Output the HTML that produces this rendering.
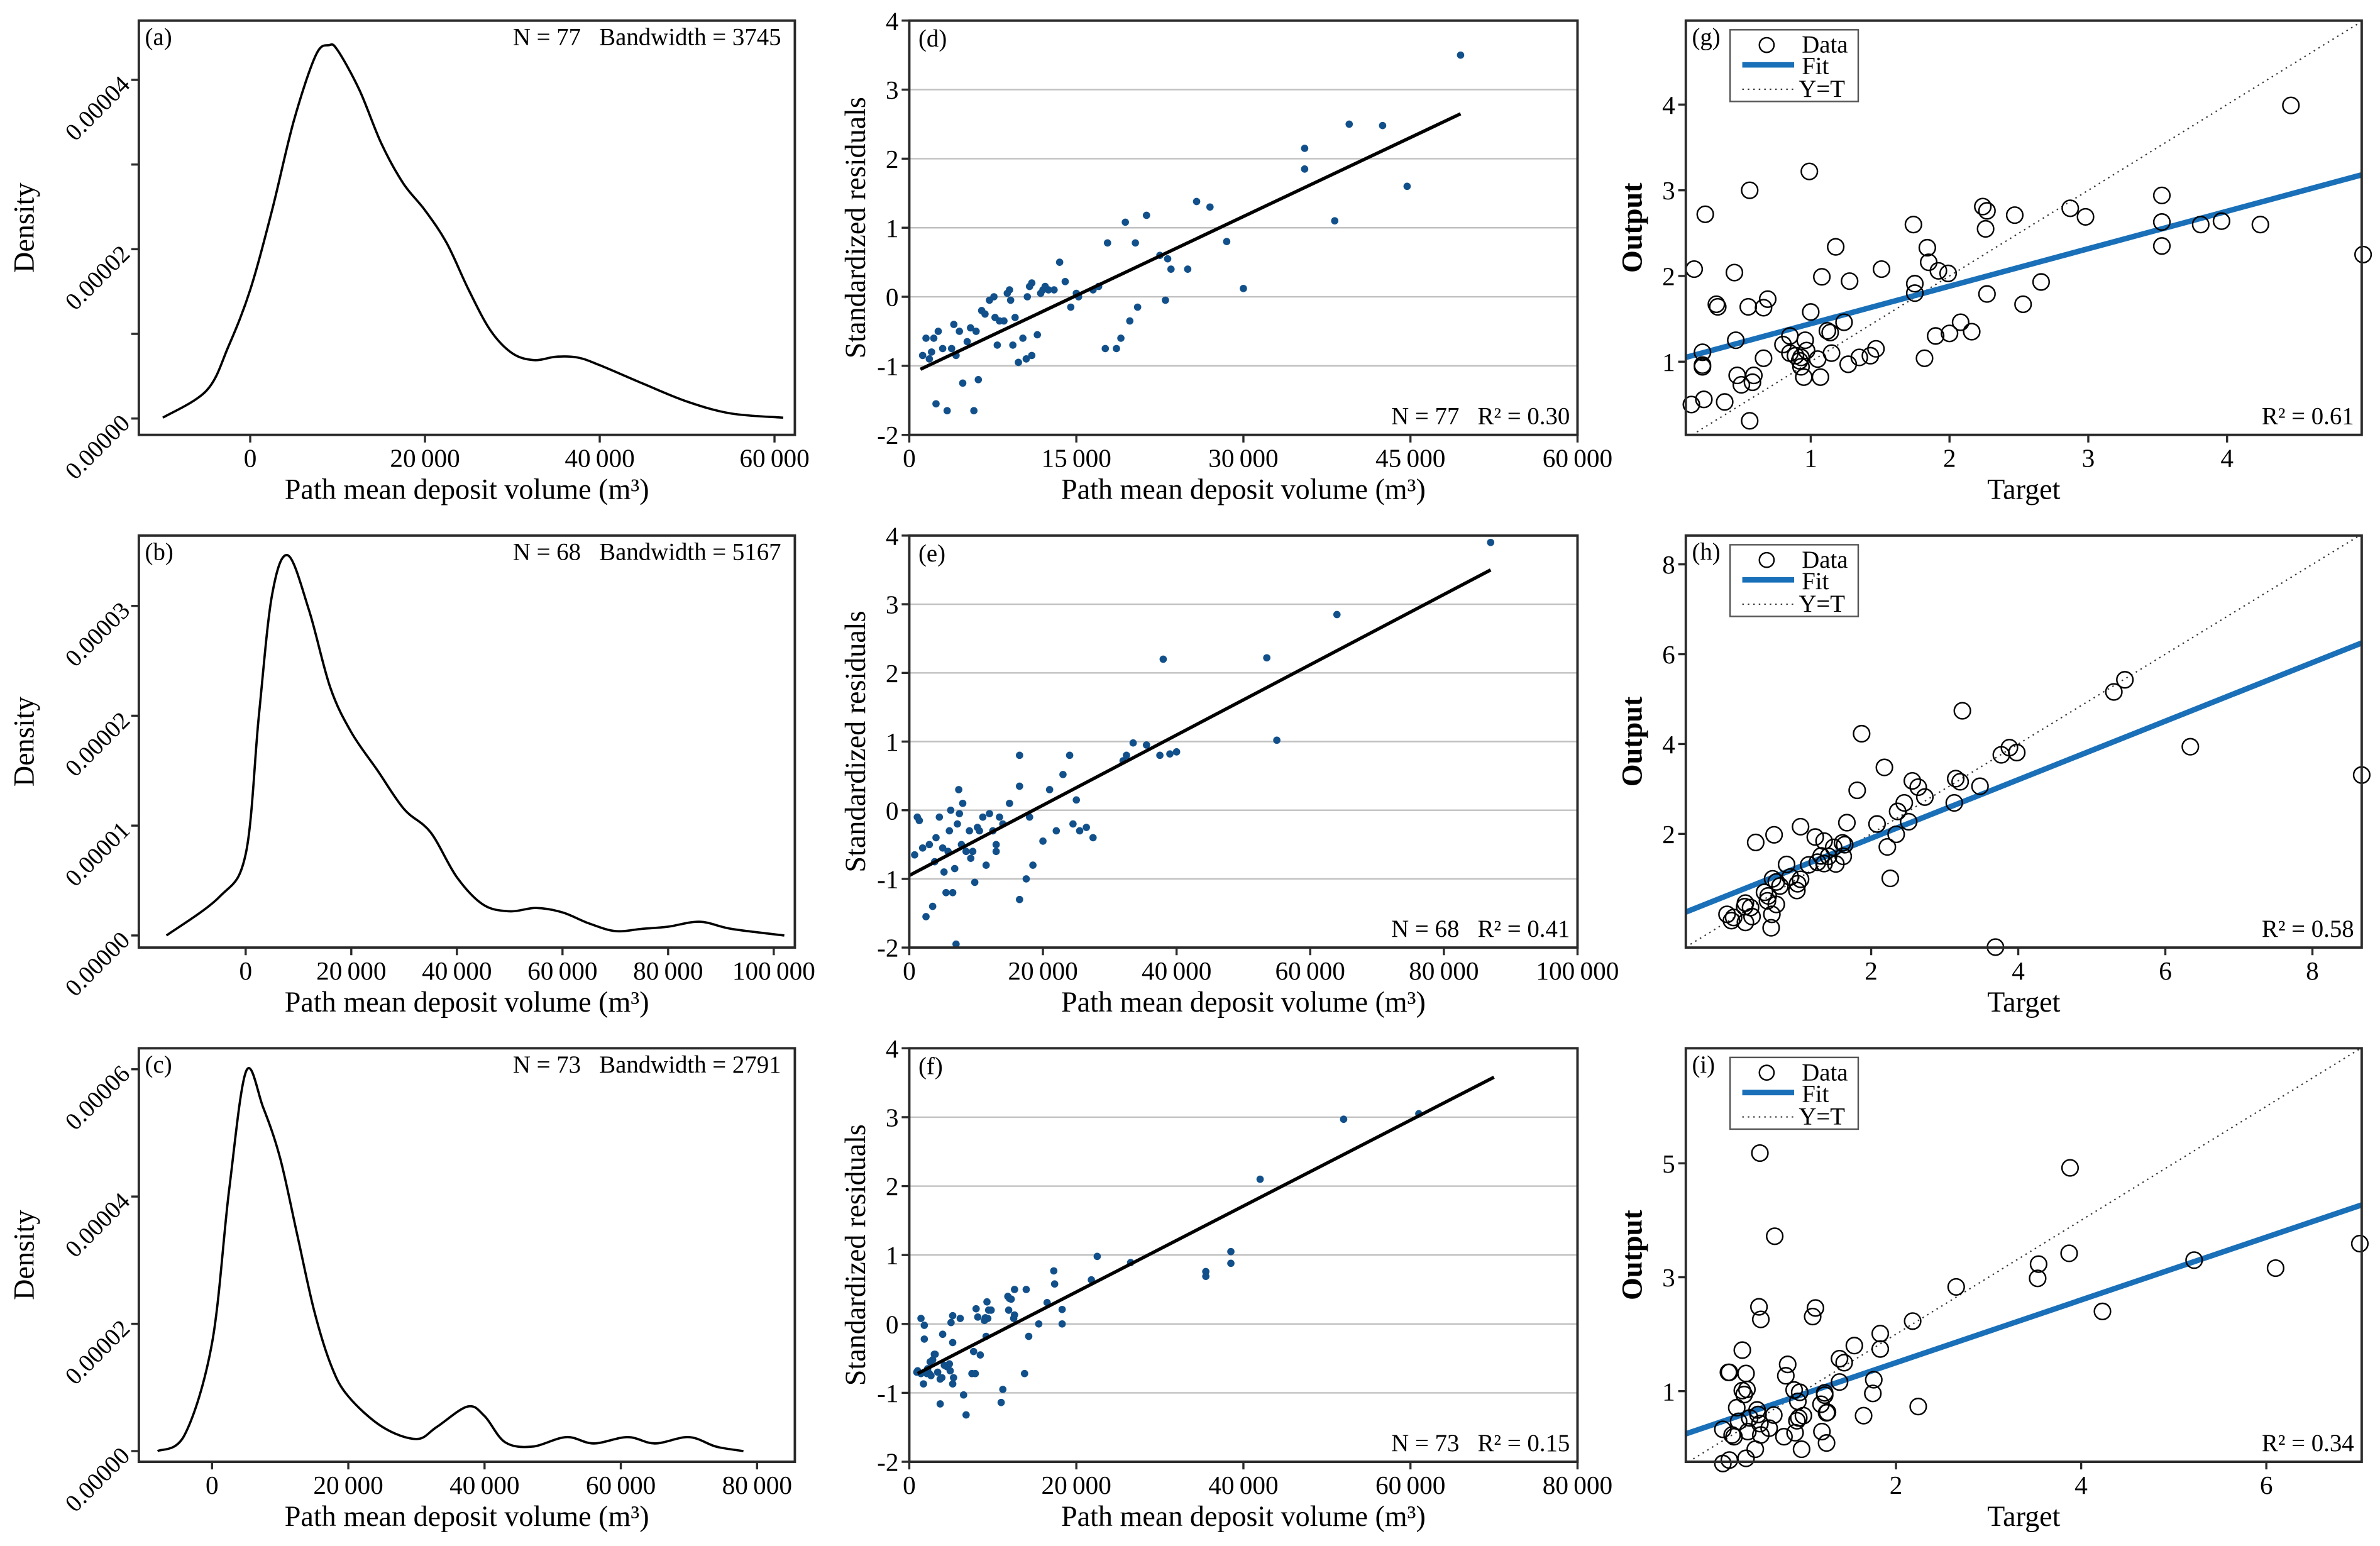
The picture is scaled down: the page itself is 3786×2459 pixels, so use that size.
<!DOCTYPE html>
<html><head><meta charset="utf-8"><title>Residual and regression panels</title>
<style>
html,body{margin:0;padding:0;background:#fff;}
svg{display:block;font-family:"Liberation Serif","DejaVu Serif",serif;}
</style></head>
<body>
<svg id="chart" xmlns="http://www.w3.org/2000/svg" width="3786" height="2459" viewBox="0 0 1560 1013.2" preserveAspectRatio="none"></svg>
<script>
// ---------- density data (a)(b)(c) ----------
const aX=[-10000,-5000,-2500,0,2500,5000,7500,9000,10000,12500,15000,17500,20000,22500,25000,27500,30000,32500,35000,37500,40000,45000,50000,55000,61000];
const aY=[0.1,3.3,8.5,15.2,24.6,35.2,42.9,44.1,43.5,38.8,32.5,27.8,24.6,20.7,15.2,10.4,7.7,6.9,7.3,7.2,6.3,4.1,2.0,0.6,0.1];
const bX=[-15000,-5000,0,2500,5000,8000,12000,16000,20000,25000,30000,35000,40000,45000,50000,55000,60000,65000,70000,75000,80000,86000,92000,102000];
const bY=[0,3.5,7.4,20,31,34.6,29.6,22.6,18.5,15,11.5,9.4,5.3,2.8,2.2,2.5,2.1,1.1,0.4,0.6,0.8,1.25,0.6,0];
const cX=[-8000,-4000,0,2500,5000,7500,10000,12500,15000,17500,20000,25000,30000,33000,37500,40000,43000,47000,52000,56000,61000,65000,70000,74000,78000];
const cY=[0,2.6,17,41,59.7,54,46,34,22,13.4,8.6,3.8,1.9,3.8,7,5.5,1.4,0.7,2.2,1.2,2.2,1.2,2.2,0.7,0];
const densTickVals=[0,10,20,30,40,50,60];
// ---------- residual data (d)(e)(f) ----------
const dX=[49500,39500,42500,35500,35500,44700,38200,30000,28500,27000,25800,25000,23200,23000,22500,21300,20300,19400,19800,20500,19000,18600,17800,17600,17000,15000,14500,14000,13500,12500,12200,11800,11000,11500,11000,10200,10500,9800,9300,9500,9000,8800,8500,8100,7700,7600,7200,6800,6500,6200,6000,5800,5500,5200,4800,4500,4000,3800,3400,3000,2600,2400,2200,2000,1800,1500,1200,7900,9100,12000,15200,16500,13000,10800,10600,23500,4200];
const dY=[3.5,2.5,2.48,2.15,1.85,1.6,1.1,0.12,0.8,1.3,1.38,0.4,0.55,-0.05,0.6,1.18,0.78,1.08,-0.35,-0.15,-0.6,-0.75,0.78,-0.75,0.15,0.05,-0.15,0.22,0.5,0.1,0.15,0.05,0.2,-0.55,-0.85,-0.6,-0.9,-0.95,-0.7,-0.3,0.1,0.05,-0.35,-0.35,-0.3,0,-0.05,-0.25,-0.2,-1.2,-0.5,-1.65,-0.45,-0.65,-1.25,-0.5,-0.4,-0.75,-1.65,-0.75,-0.5,-1.55,-0.6,-0.8,-0.9,-0.6,-0.85,-0.7,-0.05,0.1,0,0.1,0.1,0.15,0,0.4,-0.85];
const dFitX=[1000,49500], dFitY=[-1.05,2.65];
const eX=[87000,64000,53500,55000,38000,40000,39000,37500,35500,33500,32500,32000,27500,26500,25500,25000,24000,23000,22000,20000,18500,18000,17500,16500,16500,16500,15000,14000,13500,13000,12500,12000,11500,11000,10500,10200,9800,9500,9000,8500,8000,7800,7500,7400,7200,7000,6800,6500,6200,6000,5800,5500,5000,4500,4000,3800,3500,3000,2500,2000,1500,1200,800,9200,21000,24500,5200,13000];
const eY=[3.9,2.85,2.22,1.02,2.2,0.85,0.82,0.8,0.95,0.98,0.8,0.72,-0.4,-0.25,-0.3,0.15,0.8,0.52,-0.3,-0.45,-0.8,-0.1,-1.0,0.35,0.8,-1.3,0.1,-0.2,-0.1,-0.5,-0.3,-0.05,-0.8,-0.1,-0.3,-0.25,-1.05,-0.6,-0.3,-0.6,0.1,-0.5,-0.05,0.3,-0.2,-1.95,-0.85,-1.2,0,-0.3,-0.6,-1.2,-0.55,-0.1,-0.4,-0.75,-1.4,-0.5,-1.55,-0.55,-0.15,-0.1,-0.65,-0.7,0.3,-0.2,-0.9,-0.6];
const eFitX=[0,87000], eFitY=[-0.95,3.5];
const fX=[61000,52000,42000,38500,38500,35500,35500,26500,22500,21800,18300,17300,17400,16500,15500,18300,13800,14300,12600,12500,12000,11900,11200,11000,9500,9300,9800,9400,8500,8000,7700,7500,8200,9200,6500,6800,5200,5000,4800,5200,5200,4000,4200,3700,3000,3700,2800,2600,2500,2200,1700,1800,1400,1800,1000,900,1400,2400,3400,4900,5300,6100,9100,9000,11800,12200,12600,14000,7900,2100,3100,3900,4500];
const fY=[3.05,2.97,2.1,1.05,0.88,0.76,0.69,0.89,0.98,0.64,0.21,0.77,0.58,0.31,0,0,-0.72,-0.18,0.5,0.08,0.37,0.2,-0.95,-1.14,0.2,0.32,0.2,0.08,-0.45,0.22,-0.4,-0.72,0.1,-0.18,-1.03,-1.32,0.12,0.02,-0.58,-0.27,-0.87,-0.15,-0.6,-0.8,-0.44,-1.16,-0.52,-0.75,-0.55,-0.65,-0.87,-0.02,0.08,-0.22,-0.68,-0.7,-0.72,-0.72,-0.7,-0.68,-0.78,0.08,0.09,0.05,0.4,0.36,0.13,0.5,-0.72,-0.72,-0.44,-0.78,-0.62];
const fFitX=[1000,70000], fFitY=[-0.72,3.58];
// ---------- regression data (g)(h)(i) ----------
const gX=[4.46,4.98,3.53,3.53,3.53,3.81,3.96,4.24,2.87,2.98,2.24,2.27,2.26,2.47,2.66,2.27,2.53,1.99,1.92,1.85,1.84,1.74,1.75,1.75,2.08,2.0,1.9,2.16,1.82,1.51,1.18,1.08,1.28,0.99,1.0,1.24,1.12,1.14,1.15,1.47,1.43,1.35,1.27,1.05,1.07,0.95,0.96,0.97,0.93,0.92,0.93,0.89,0.85,0.85,0.8,0.66,0.56,0.69,0.66,0.55,0.45,0.33,0.32,0.24,0.16,0.22,0.22,0.22,0.46,0.47,0.5,0.59,0.58,0.23,0.38,0.14,0.56];
const gY=[3.99,2.25,2.94,2.63,2.35,2.6,2.64,2.6,2.79,2.69,2.81,2.76,2.55,2.71,1.93,1.79,1.67,2.03,2.06,2.16,2.33,2.6,1.91,1.8,1.46,1.33,1.3,1.35,1.04,2.08,2.34,1.99,1.94,3.22,1.58,1.46,1.36,1.34,1.1,1.15,1.07,1.05,0.97,1.03,0.82,0.82,1.25,1.13,1.05,1.01,0.94,1.07,1.3,1.1,1.2,1.04,3.0,1.73,1.63,1.64,2.04,1.64,1.67,2.72,2.08,1.11,0.96,0.94,1.25,0.84,0.73,0.84,0.76,0.56,0.53,0.5,0.31];
const gFitX=[0.1,4.97], gFitY=[1.05,3.18];
const hX=[8.67,6.34,5.45,5.3,3.24,1.87,3.88,3.77,3.98,2.18,3.15,3.21,3.48,2.56,2.64,1.81,2.73,2.45,3.13,2.36,2.51,2.08,1.67,2.34,2.22,2.26,1.04,0.68,0.43,1.24,1.36,1.61,1.64,1.49,1.62,1.42,1.32,1.36,1.27,1.52,1.15,0.85,1.04,0.9,1.0,0.99,0.66,0.71,0.76,0.55,0.6,0.59,0.71,0.65,0.64,0.29,0.28,0.36,0.38,0.29,0.04,0.13,0.1,3.69];
const hY=[3.31,3.94,5.43,5.16,4.74,4.23,3.92,3.76,3.81,3.48,3.23,3.16,3.06,3.18,3.04,2.97,2.82,2.69,2.69,2.5,2.27,2.22,2.25,1.99,1.71,1.01,2.16,1.98,1.81,1.93,1.84,1.8,1.76,1.7,1.5,1.5,1.51,1.34,1.37,1.33,1.31,1.32,0.99,1.04,0.89,0.74,1.0,0.93,0.84,0.7,0.62,0.51,0.43,0.21,-0.09,0.46,0.38,0.36,0.16,0.03,0.21,0.14,0.07,-0.52];
const hFitX=[-0.52,8.67], hFitY=[0.26,6.25];
const iX=[0.53,3.88,0.69,3.87,3.54,3.53,5.22,6.1,7.01,2.65,4.23,0.52,0.54,1.13,1.1,2.18,1.83,1.83,1.55,1.39,1.44,0.34,0.19,0.2,0.38,0.83,0.81,1.76,1.39,1.75,2.24,0.34,0.39,0.36,0.9,0.96,0.94,1.23,1.23,1.19,1.26,1.25,1.65,0.28,0.5,0.51,0.68,1.0,0.95,0.93,0.3,0.42,0.53,0.63,0.13,0.23,0.25,0.4,0.54,0.79,0.91,1.2,1.25,0.98,0.48,0.38,0.2,0.13];
const iY=[5.18,4.92,3.72,3.42,3.23,2.98,3.3,3.16,3.59,2.83,2.4,2.48,2.26,2.46,2.31,2.23,2.01,1.74,1.8,1.57,1.5,1.72,1.33,1.33,1.31,1.47,1.27,1.2,1.16,0.96,0.73,1.01,1.03,0.94,1.02,0.98,0.82,0.97,0.93,0.77,0.63,0.62,0.57,0.71,0.67,0.59,0.58,0.57,0.53,0.48,0.47,0.53,0.43,0.35,0.33,0.23,0.2,0.29,0.23,0.2,0.27,0.29,0.09,-0.02,-0.02,-0.18,-0.21,-0.27];
const iFitX=[-0.27,7.03], iFitY=[0.25,4.27];

// ---------- rendering ----------
const NS='http://www.w3.org/2000/svg';
const svg=document.getElementById('chart');
const SP='\u00a0\u00a0\u00a0';
function mk(tag,attrs,parent){const e=document.createElementNS(NS,tag);for(const k in attrs)e.setAttribute(k,attrs[k]);(parent||svg).appendChild(e);return e;}
function txt(parent,x,y,s,size,anchor,extra){const t=mk('text',Object.assign({x:x,y:y,'font-size':size,'text-anchor':anchor||'start',fill:'#000'},extra||{}),parent);t.textContent=s;return t;}
function fmt(v){if(v===0)return '0';const s=String(Math.round(v));if(Math.abs(v)>=10000){return s.slice(0,s.length-3)+'\u2009'+s.slice(-3);}return s;}
function scale(d0,d1,r0,r1){return v=>r0+(v-d0)/(d1-d0)*(r1-r0);}
function smoothPath(px,py){let d='M'+px[0]+','+py[0];for(let i=0;i<px.length-1;i++){const x0=px[Math.max(i-1,0)],y0=py[Math.max(i-1,0)],x1=px[i],y1=py[i],x2=px[i+1],y2=py[i+1],x3=px[Math.min(i+2,px.length-1)],y3=py[Math.min(i+2,px.length-1)];d+=' C'+(x1+(x2-x0)/6)+','+(y1+(y2-y0)/6)+' '+(x2-(x3-x1)/6)+','+(y2-(y3-y1)/6)+' '+x2+','+y2;}return d;}

const cols=[[91,521],[596,1034],[1105,1548]];
const rows=[[13.5,285],[351,621],[687,958]];

function frame(g,B){
  const r=mk('rect',{x:B.x0,y:B.y0,width:B.x1-B.x0,height:B.y1-B.y0,fill:'none',stroke:'#2a2a2a','stroke-width':1.6},g);
  
  
}
function xAxis(g,B,sx,ticks,labels,title,titleWeight){
  const ax=mk('g',{},g);
  
  
  ticks.forEach((v,i)=>{const x=sx(v);mk('line',{x1:x,x2:x,y1:B.y1,y2:B.y1+5,stroke:'#2a2a2a','stroke-width':1.4},ax);
    const t=txt(ax,x,B.y1+21,labels[i],17,'middle');
    
    });
  const tt=txt(ax,(B.x0+B.x1)/2,B.y1+42,title,19,'middle',titleWeight?{'font-weight':titleWeight}:{});
  
  
}
function yAxis(g,B,sy,ticks,labels,title,tx,rot,titleWeight){
  const ax=mk('g',{},g);
  
  
  ticks.forEach((v,i)=>{const y=sy(v);mk('line',{x1:B.x0-5,x2:B.x0,y1:y,y2:y,stroke:'#2a2a2a','stroke-width':1.4},ax);
    let t;
    if(rot){t=txt(ax,B.x0-5,y+4,labels[i],16,'end',{transform:'rotate(-45 '+(B.x0-5)+' '+(y+4)+')'});}
    else{t=txt(ax,B.x0-7,y+6,labels[i],17,'end');}
    
    });
  const cy=(B.y0+B.y1)/2;
  const tt=txt(ax,tx,cy,title,19,'middle',Object.assign({transform:'rotate(-90 '+tx+' '+cy+')'},titleWeight?{'font-weight':titleWeight}:{}));
  
  
}

// density panels
const densSets=[
 {X:aX,Y:aY,xd:[-12747,62330],yd:[-1.93,47.0],xt:[0,20000,40000,60000],lab:'(a)',note:'N = 77'+SP+'Bandwidth = 3745'},
 {X:bX,Y:bY,xd:[-20230,104000],yd:[-1.1,36.4],xt:[0,20000,40000,60000,80000,100000],lab:'(b)',note:'N = 68'+SP+'Bandwidth = 5167'},
 {X:cX,Y:cY,xd:[-10750,85550],yd:[-1.68,63.3],xt:[0,20000,40000,60000,80000],lab:'(c)',note:'N = 73'+SP+'Bandwidth = 2791'}
];
densSets.forEach((P,r)=>{
  const B={x0:cols[0][0],x1:cols[0][1],y0:rows[r][0],y1:rows[r][1]};
  const g=mk('g',{});
  
  
  const sx=scale(P.xd[0],P.xd[1],B.x0,B.x1), sy=scale(P.yd[0],P.yd[1],B.y1,B.y0);
  let yt=densTickVals.filter(v=>v>=0&&v<=P.yd[1]);
  if(r===2) yt=yt.filter(v=>v%20===0);
  const ytLab=yt.map(v=>{const s=(v/1e6).toFixed(5);return (r===0)?(v%20===0?s:''):s;});
  yAxis(g,B,sy,yt,ytLab,'Density',22,true);
  xAxis(g,B,sx,P.xt,P.xt.map(fmt),'Path mean deposit volume (m³)');
  const curve=mk('path',{d:smoothPath(P.X.map(sx),P.Y.map(sy)),fill:'none',stroke:'#000','stroke-width':1.5},g);
  
  
  frame(g,B);
  const l=txt(g,B.x0+4,B.y0+16,P.lab,16,'start');
  
  
  const n=txt(g,B.x1-9,B.y0+16,P.note,16,'end');
  
  
});

// residual panels
const resSets=[
 {X:dX,Y:dY,FX:dFitX,FY:dFitY,xd:[0,60000],xt:[0,15000,30000,45000,60000],lab:'(d)',note:'N = 77'+SP+'R² = 0.30'},
 {X:eX,Y:eY,FX:eFitX,FY:eFitY,xd:[0,100000],xt:[0,20000,40000,60000,80000,100000],lab:'(e)',note:'N = 68'+SP+'R² = 0.41'},
 {X:fX,Y:fY,FX:fFitX,FY:fFitY,xd:[0,80000],xt:[0,20000,40000,60000,80000],lab:'(f)',note:'N = 73'+SP+'R² = 0.15'}
];
const resYTicks=[-2,-1,0,1,2,3,4];
resSets.forEach((P,r)=>{
  const B={x0:cols[1][0],x1:cols[1][1],y0:rows[r][0],y1:rows[r][1]};
  const g=mk('g',{});
  
  
  const sx=scale(P.xd[0],P.xd[1],B.x0,B.x1), sy=scale(-2,4,B.y1,B.y0);
  resYTicks.slice(1,-1).forEach(v=>{const gl=mk('line',{x1:B.x0,x2:B.x1,y1:sy(v),y2:sy(v),stroke:'#c0c0c0','stroke-width':1},g);
    
    });
  yAxis(g,B,sy,resYTicks,resYTicks.map(String),'Standardized residuals',567,false);
  xAxis(g,B,sx,P.xt,P.xt.map(fmt),'Path mean deposit volume (m³)');
  const n=Math.min(P.X.length,P.Y.length);
  for(let i=0;i<n;i++){const c=mk('circle',{cx:sx(P.X[i]),cy:sy(P.Y[i]),r:2.4,fill:'#11508a'},g);
    
    }
  const fl=mk('line',{x1:sx(P.FX[0]),y1:sy(P.FY[0]),x2:sx(P.FX[1]),y2:sy(P.FY[1]),stroke:'#000','stroke-width':2.2},g);
  
  
  frame(g,B);
  const l=txt(g,B.x0+6,B.y0+17,P.lab,16,'start');
  
  
  const nt=txt(g,B.x1-5,B.y1-7,P.note,16,'end');
  
  
});

// regression panels
const regSets=[
 {X:gX,Y:gY,FX:gFitX,FY:gFitY,xd:[0.1,4.97],yd:[0.146,4.98],xt:[1,2,3,4],yt:[1,2,3,4],lab:'(g)',note:'R² = 0.61'},
 {X:hX,Y:hY,FX:hFitX,FY:hFitY,xd:[-0.52,8.67],yd:[-0.53,8.64],xt:[2,4,6,8],yt:[2,4,6,8],lab:'(h)',note:'R² = 0.58'},
 {X:iX,Y:iY,FX:iFitX,FY:iFitY,xd:[-0.27,7.03],yd:[-0.24,7.02],xt:[2,4,6],yt:[1,3,5],lab:'(i)',note:'R² = 0.34'}
];
regSets.forEach((P,r)=>{
  const B={x0:cols[2][0],x1:cols[2][1],y0:rows[r][0],y1:rows[r][1]};
  const g=mk('g',{});
  
  
  const sx=scale(P.xd[0],P.xd[1],B.x0,B.x1), sy=scale(P.yd[0],P.yd[1],B.y1,B.y0);
  yAxis(g,B,sy,P.yt,P.yt.map(String),'Output',1076,false,'bold');
  xAxis(g,B,sx,P.xt,P.xt.map(String),'Target');
  const lo=Math.max(P.xd[0],P.yd[0]), hi=Math.min(P.xd[1],P.yd[1]);
  const yt=mk('line',{x1:sx(lo),y1:sy(lo),x2:sx(hi),y2:sy(hi),stroke:'#333','stroke-width':0.9,'stroke-dasharray':'1 2.6'},g);
  
  
  const fl=mk('line',{x1:sx(P.FX[0]),y1:sy(P.FY[0]),x2:sx(P.FX[1]),y2:sy(P.FY[1]),stroke:'#1a70b8','stroke-width':3.6},g);
  
  
  const n=Math.min(P.X.length,P.Y.length);
  for(let i=0;i<n;i++){const c=mk('ellipse',{cx:sx(P.X[i]),cy:sy(P.Y[i]),rx:5.3,ry:5.3,fill:'none',stroke:'#000','stroke-width':1},g);
    
    }
  frame(g,B);
  const l=txt(g,B.x0+4,B.y0+16,P.lab,16,'start');
  
  
  const nt=txt(g,B.x1-5,B.y1-7,P.note,16,'end');
  
  
  const lg=mk('g',{},g);
  
  
  const lx=B.x0+29, ly=B.y0+6;
  mk('rect',{x:lx,y:ly,width:84,height:47,fill:'#fff',stroke:'#555','stroke-width':1},lg);
  mk('circle',{cx:lx+24,cy:ly+10,r:4.8,fill:'none',stroke:'#000','stroke-width':1},lg);
  const t1=txt(lg,lx+47,ly+15,'Data',16,'start');
  
  
  mk('line',{x1:lx+8,x2:lx+42,y1:ly+23,y2:ly+23,stroke:'#1a70b8','stroke-width':3.6},lg);
  const t2=txt(lg,lx+47,ly+29,'Fit',16,'start');
  
  
  mk('line',{x1:lx+8,x2:lx+42,y1:ly+39,y2:ly+39,stroke:'#333','stroke-width':0.9,'stroke-dasharray':'1 2.6'},lg);
  const t3=txt(lg,lx+45,ly+44,'Y=T',16,'start');
  
  
});
</script>
</body></html>
